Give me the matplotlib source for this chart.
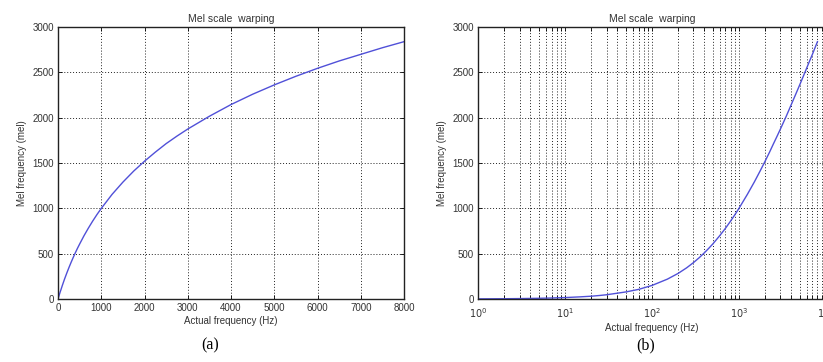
import numpy as np
import matplotlib
matplotlib.use('Agg')
import matplotlib.pyplot as plt
from matplotlib.ticker import LogLocator, NullFormatter, FixedLocator

plt.rcParams['font.family'] = ['Liberation Sans', 'DejaVu Sans']

# ------------------------------------------------------------------
# data (mel value vs actual frequency)
# ------------------------------------------------------------------
freq_hz = [0, 1, 2, 3, 5, 7, 10, 15, 20, 25, 30, 50, 70, 100, 150, 200,
           250, 300, 350, 400, 450, 500, 600, 700, 800, 900, 1000, 1250,
           1500, 1750, 2000, 2250, 2500, 2750, 3000, 3500, 4000, 4500,
           5000, 5500, 6000, 6500, 7000, 7500, 8000]
mel = [0, 1.6, 3.2, 4.8, 8.0, 11.2, 16, 24, 31, 39, 47, 78, 106, 150, 219,
       283, 344, 402, 457, 510, 560, 607, 698, 781, 859, 932, 1000, 1155,
       1290, 1412, 1521, 1621, 1715, 1798, 1876, 2017, 2146, 2260,
       2363, 2458, 2546, 2627, 2700, 2773, 2840]

yticks = [0, 500, 1000, 1500, 2000, 2500, 3000]
xticks_lin = [0, 1000, 2000, 3000, 4000, 5000, 6000, 7000, 8000]
xticks_log = [1, 10, 100, 1000, 10000]
xticklabels_log = [r'$10^{0}$', r'$10^{1}$', r'$10^{2}$', r'$10^{3}$', r'$10^{4}$']

line_color = '#5050d8'
txt_color = '#333333'
fs = 7

fig = plt.figure(figsize=(8.23, 3.62), dpi=100)
ax1 = fig.add_axes([0.0705, 0.174, 0.4205, 0.751])
ax2 = fig.add_axes([0.581, 0.174, 0.4225, 0.751])

grid_kw = dict(color='#222222', linestyle=(0, (1, 2)), linewidth=0.7)

# (a) linear axis
ax1.plot(freq_hz, mel, color=line_color, linewidth=1.0)
ax1.set_xlim(0, 8000)
ax1.set_ylim(0, 3000)
ax1.set_xticks(xticks_lin)
ax1.set_yticks(yticks)
ax1.grid(True, **grid_kw)

# (b) log axis
f_log = freq_hz[1:]
m_log = mel[1:]
ax2.semilogx(f_log, m_log, color=line_color, linewidth=1.0)
ax2.set_xlim(1, 10000)
ax2.set_ylim(0, 3000)
ax2.set_yticks(yticks)
ax2.xaxis.set_major_locator(FixedLocator(xticks_log))
ax2.set_xticklabels(xticklabels_log)
ax2.xaxis.set_minor_locator(LogLocator(base=10, subs=np.arange(2, 10), numticks=20))
ax2.xaxis.set_minor_formatter(NullFormatter())
ax2.grid(True, which='major', **grid_kw)
ax2.grid(True, which='minor', axis='x', **grid_kw)

for ax in (ax1, ax2):
    ax.set_axisbelow(True)
    ax.set_title('Mel scale  warping', fontsize=7.5, color=txt_color, pad=4)
    ax.set_xlabel('Actual frequency (Hz)', fontsize=fs, color=txt_color, labelpad=2)
    ax.set_ylabel('Mel frequency (mel)', fontsize=fs, color=txt_color, labelpad=4)
    ax.tick_params(axis='both', which='both', direction='in', labelsize=fs,
                   labelcolor=txt_color, length=3, width=0.6, pad=3,
                   top=True, right=True)
    for sp in ax.spines.values():
        sp.set_linewidth(1.0)
        sp.set_color('#222222')

ax2.tick_params(axis='x', which='major', pad=5)

fig.text(0.255, 0.035, '(a)', fontsize=11.5, family='Liberation Serif', ha='center')
fig.text(0.785, 0.035, '(b)', fontsize=11.5, family='Liberation Serif', ha='center')

fig.savefig('out.png', dpi=100)
